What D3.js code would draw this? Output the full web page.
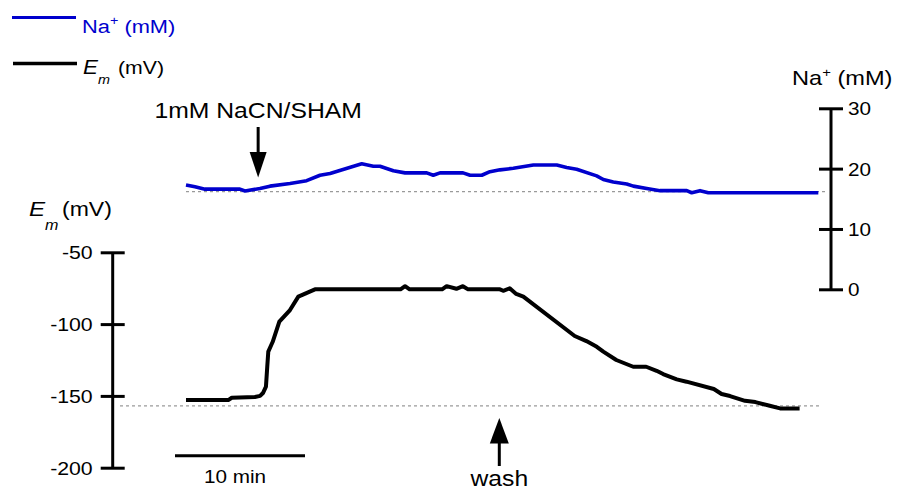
<!DOCTYPE html>
<html><head><meta charset="utf-8">
<script src="https://cdn.jsdelivr.net/npm/d3@7/dist/d3.min.js"></script>
<style>
body{margin:0;background:#fff;}
svg text{font-family:"Liberation Sans",Arial,Helvetica,sans-serif;fill:#000;}
</style></head>
<body><svg id="c" width="897" height="490"></svg>
<script>
// ---- data ----
const naTime  = [0,0.69,1.46,4.15,4.54,5.69,6.46,8.0,9.28,10.31,11.08,13.52,14.41,14.92,15.95,16.85,18.52,19.02,19.54,21.31,21.85,22.75,23.38,24.15,25.18,26.72,28.52,29.28,30.05,31.59,32.1,32.87,33.9,34.41,35.44,36.46,38.52,38.9,39.54,40.18,48.64];
const naValue = [17.3,17.0,16.6,16.6,16.3,16.7,17.1,17.55,18.0,18.9,19.2,20.8,20.4,20.4,19.65,19.3,19.3,18.9,19.3,19.3,18.9,18.9,19.5,19.8,20.05,20.6,20.6,20.2,19.9,18.8,18.2,17.8,17.45,17.1,16.7,16.35,16.35,16.0,16.35,16.0,16.0];
const emTime  = [0,3.25,3.52,5.3,5.7,5.92,6.15,6.25,6.33,6.67,7.18,8.0,8.64,9.92,16.5,16.85,17.2,19.7,20.05,20.8,21.3,21.7,24.15,24.4,24.9,25.4,25.95,29.9,30.8,31.6,32.1,33.1,34.4,35.4,36.2,36.7,37.75,38.5,40.6,41.2,41.85,43.0,43.8,44.9,45.7,47.2];
const emValue = [-152.9,-152.9,-151.3,-150.8,-150.0,-148.0,-143.6,-129.7,-119.2,-112.3,-98.3,-90.2,-80.9,-75.8,-75.8,-73.6,-75.8,-75.8,-73.6,-75.4,-73.6,-75.8,-75.8,-76.8,-75.1,-79.0,-80.9,-108.3,-111.8,-115.8,-119.2,-125.0,-129.7,-129.7,-132.5,-134.8,-138.5,-140.1,-145.2,-148.7,-150.1,-153.4,-154.3,-156.9,-158.7,-158.7];
const naTicks = [0,10,20,30];
const emTicks = [-200,-150,-100,-50];
const naBaseline = 16.2;
const emBaseline = -157;
const scaleBarMin = 10;
const addTime = 5.55, washTime = 24.1;

// ---- layout ----
const svg = d3.select("#c");
const S = 1.15; // horizontal glyph stretch of the original
const blue = "#0000cd";
const x = d3.scaleLinear().domain([0,50]).range([186,836]);
const yNa = d3.scaleLinear().domain([0,30]).range([289.3,108.3]);
const yEm = d3.scaleLinear().domain([-200,-50]).range([467.7,252.3]);
const fmt = d => String(d); // plain hyphen-minus like the original

function txt(g, px, py, str, size, anchor, opts={}) {
  const t = g.append("text")
    .attr("transform", `translate(${px},${py}) scale(${S},1)`)
    .attr("font-size", size)
    .attr("text-anchor", anchor || "start");
  if (opts.fill) t.style("fill", opts.fill);
  if (opts.italic) t.attr("font-style","italic");
  t.text(str);
  return t;
}

// baselines (dashed)
svg.append("line").attr("x1",186).attr("x2",826)
  .attr("y1",yNa(naBaseline)).attr("y2",yNa(naBaseline))
  .attr("stroke","#9a9a9a").attr("stroke-width",1.2).attr("stroke-dasharray","3,3");
svg.append("line").attr("x1",120).attr("x2",822)
  .attr("y1",yEm(emBaseline)).attr("y2",yEm(emBaseline))
  .attr("stroke","#9a9a9a").attr("stroke-width",1.2).attr("stroke-dasharray","3,3");

// traces
const naData = naTime.map((t,i)=>[t,naValue[i]]);
const emData = emTime.map((t,i)=>[t,emValue[i]]);
svg.append("path").datum(naData)
  .attr("d", d3.line().x(d=>x(d[0])).y(d=>yNa(d[1])))
  .attr("fill","none").attr("stroke",blue).attr("stroke-width",3.6)
  .attr("stroke-linejoin","round").attr("stroke-linecap","butt");
svg.append("path").datum(emData)
  .attr("d", d3.line().x(d=>x(d[0])).y(d=>yEm(d[1])))
  .attr("fill","none").attr("stroke","#000").attr("stroke-width",4)
  .attr("stroke-linejoin","round").attr("stroke-linecap","butt");

// right axis (Na)
const ra = svg.append("g").attr("transform","translate(831,0)")
  .call(d3.axisRight(yNa).tickValues(naTicks).tickSize(12).tickFormat(fmt));
ra.select(".domain").remove();
ra.append("line").attr("x1",0).attr("x2",0).attr("y1",yNa(30)).attr("y2",yNa(0))
  .attr("stroke","#000").attr("stroke-width",3);
ra.selectAll(".tick line").attr("x1",-12).attr("x2",12).attr("stroke","#000").attr("stroke-width",3);
ra.selectAll(".tick text").each(function(d){
  d3.select(this).attr("x",null).attr("dy",null).attr("fill",null)
   .attr("transform",`translate(17,6.5) scale(${S},1)`)
   .attr("font-size",18).attr("text-anchor","start");
});
ra.attr("font-family",null).attr("font-size",null);

// left axis (Em)
const la = svg.append("g").attr("transform","translate(112.7,0)")
  .call(d3.axisLeft(yEm).tickValues(emTicks).tickSize(12).tickFormat(fmt));
la.select(".domain").remove();
la.append("line").attr("x1",0).attr("x2",0).attr("y1",yEm(-50)).attr("y2",yEm(-200))
  .attr("stroke","#000").attr("stroke-width",3);
la.selectAll(".tick line").attr("x1",-12).attr("x2",12).attr("stroke","#000").attr("stroke-width",3);
la.selectAll(".tick text").each(function(d){
  d3.select(this).attr("x",null).attr("dy",null).attr("fill",null)
   .attr("transform",`translate(-20,6.5) scale(${S},1)`)
   .attr("font-size",18.5).attr("text-anchor","end");
});
la.attr("font-family",null).attr("font-size",null);

// axis titles
const naT = txt(svg, 792, 85, "Na", 20.5, "start");
naT.append("tspan").attr("dy",-8).attr("font-size",13).text("+");
naT.append("tspan").attr("dy",8).text(" (mM)");
txt(svg, 29, 216, "E", 21, "start", {italic:true});
txt(svg, 45, 230, "m", 14, "start", {italic:true});
txt(svg, 62, 216, "(mV)", 20, "start");

// legend
svg.append("line").attr("x1",12).attr("x2",76).attr("y1",17.5).attr("y2",17.5)
  .attr("stroke",blue).attr("stroke-width",3);
const lg1 = txt(svg, 82, 33, "Na", 19, "start", {fill:blue});
lg1.append("tspan").attr("dy",-8).attr("font-size",12.5).style("fill",blue).text("+");
lg1.append("tspan").attr("dy",8).style("fill",blue).text(" (mM)");
svg.append("line").attr("x1",13).attr("x2",77).attr("y1",63.5).attr("y2",63.5)
  .attr("stroke","#000").attr("stroke-width",3.5);
txt(svg, 83, 74, "E", 19.5, "start", {italic:true});
txt(svg, 98, 84, "m", 12.5, "start", {italic:true});
txt(svg, 118, 74, "(mV)", 18.5, "start");

// NaCN arrow
const ax = x(addTime);
svg.append("text").attr("transform",`translate(${ax},118) scale(${S},1)`)
  .attr("font-size",21.5).attr("text-anchor","middle").text("1mM NaCN/SHAM");
svg.append("line").attr("x1",ax).attr("x2",ax).attr("y1",127).attr("y2",153)
  .attr("stroke","#000").attr("stroke-width",3);
svg.append("path").attr("d",`M${ax-8.5},152 L${ax+8.5},152 L${ax},177.5 Z`).attr("fill","#000");

// wash arrow
const wx = x(washTime);
svg.append("line").attr("x1",wx).attr("x2",wx).attr("y1",441).attr("y2",466)
  .attr("stroke","#000").attr("stroke-width",3);
svg.append("path").attr("d",`M${wx-9.5},443.5 L${wx+9.5},443.5 L${wx},418 Z`).attr("fill","#000");
svg.append("text").attr("transform",`translate(${wx},485.5) scale(${S},1)`)
  .attr("font-size",21.5).attr("text-anchor","middle").text("wash");

// scale bar
svg.append("line").attr("x1",175).attr("x2",175 + (x(scaleBarMin)-x(0)))
  .attr("y1",455.7).attr("y2",455.7).attr("stroke","#000").attr("stroke-width",3);
svg.append("text").attr("transform",`translate(${175 + (x(scaleBarMin)-x(0))/2 - 5},483) scale(${S},1)`)
  .attr("font-size",18).attr("text-anchor","middle").text(scaleBarMin + " min");
</script></body></html>
